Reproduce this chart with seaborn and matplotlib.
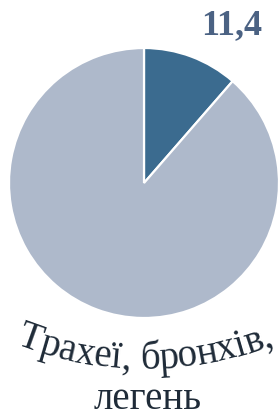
import numpy as np
import matplotlib
matplotlib.use("Agg")
import matplotlib.pyplot as plt
import seaborn as sns
from matplotlib.font_manager import FontProperties, findfont
from matplotlib.ft2font import FT2Font

sns.set_theme(style="white")

# ------------------------------------------------------------------
# data
# ------------------------------------------------------------------
shares = [11.4, 88.6]
value_label = "11,4"
title_arc = "Трахеї, бронхів,"
title_line2 = "легень"
colors = ["#3b6b8f", "#aeb9cb"]

SERIF = ["Liberation Serif", "DejaVu Serif"]
W, H, DPI = 279, 419, 100

fig = plt.figure(figsize=(W / DPI, H / DPI), dpi=DPI)
fig.patch.set_facecolor("white")

# pie axes: centre (144,183) px, radius 135 px
cx, cy, r = 144, 183, 135
ax = fig.add_axes([(cx - r) / W, (H - cy - r) / H, 2 * r / W, 2 * r / H])
ax.pie(shares, colors=colors, startangle=90, counterclock=False,
       wedgeprops=dict(edgecolor="white", linewidth=1.6))
ax.set_xlim(-1, 1)
ax.set_ylim(-1, 1)
ax.axis("off")

# overlay in pixel coords (y down)
ov = fig.add_axes([0, 0, 1, 1])
ov.set_xlim(0, W)
ov.set_ylim(H, 0)
ov.axis("off")

ov.text(262, 34, value_label, ha="right", va="baseline", fontsize=26,
        fontweight="bold", color="#4b6283", family=SERIF)

# curved first line of the caption
fs = 28
fp = FontProperties(family=SERIF, size=fs)
font = FT2Font(findfont(fp))
font.set_size(fs, DPI)
adv = [font.load_char(ord(c)).linearHoriAdvance / 65536 for c in title_arc]
total = sum(adv)

acx, base_y, R = 145, 369, 350
acy = base_y - R
pos = -total / 2
for c, a in zip(title_arc, adv):
    s = pos + a / 2
    th = s / R
    ov.text(acx + R * np.sin(th), acy + R * np.cos(th), c,
            ha="center", va="baseline", rotation=np.degrees(th),
            rotation_mode="anchor", fontsize=fs, color="#1f2b38", family=SERIF)
    pos += a

ov.text(148, 409, title_line2, ha="center", va="baseline", fontsize=fs,
        color="#1f2b38", family=SERIF)

fig.savefig("out.png", dpi=DPI)
